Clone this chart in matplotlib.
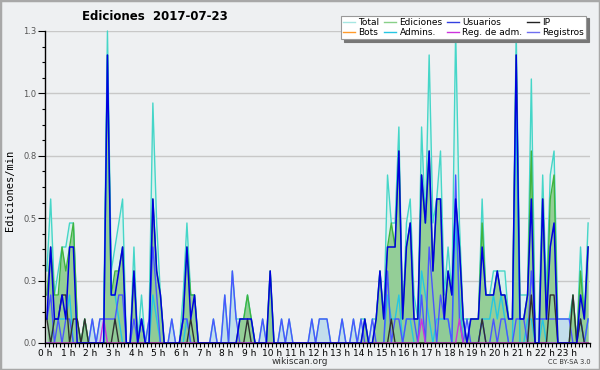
import matplotlib
matplotlib.use("Agg")
import matplotlib.pyplot as plt
from matplotlib.lines import Line2D
from matplotlib.patches import Rectangle
import numpy as np

# Edits per 10-minute slot, one row per hour (6 slots per hour)
total = [
    [3, 6, 2, 3, 4, 4], [5, 5, 1, 0, 1, 0], [1, 0, 1, 1, 13, 3], [4, 5, 6, 0, 0, 4],
    [0, 2, 0, 1, 10, 5], [2, 0, 0, 1, 0, 0], [2, 5, 2, 2, 0, 0], [0, 0, 1, 0, 0, 2],
    [0, 3, 1, 1, 1, 2], [1, 0, 0, 1, 0, 3], [0, 0, 1, 0, 1, 0], [0, 0, 0, 0, 1, 0],
    [1, 1, 1, 0, 0, 0], [1, 0, 0, 1, 0, 1], [1, 0, 1, 1, 3, 1], [7, 5, 5, 9, 1, 5],
    [6, 2, 1, 9, 5, 12], [5, 6, 8, 2, 4, 2], [13, 5, 1, 1, 1, 1], [1, 6, 2, 2, 3, 3],
    [3, 3, 1, 1, 13, 2], [2, 2, 11, 1, 1, 7], [2, 7, 8, 1, 1, 1], [1, 2, 0, 4, 1, 5],
]
ediciones = [
    [2, 4, 2, 2, 4, 3], [4, 5, 1, 0, 1, 0], [0, 0, 0, 0, 12, 2], [3, 3, 4, 0, 0, 3],
    [0, 1, 0, 0, 6, 3], [2, 0, 0, 0, 0, 0], [1, 4, 2, 2, 0, 0], [0, 0, 0, 0, 0, 0],
    [0, 0, 0, 1, 1, 2], [1, 0, 0, 0, 0, 3], [0, 0, 0, 0, 0, 0], [0, 0, 0, 0, 0, 0],
    [0, 0, 0, 0, 0, 0], [0, 0, 0, 0, 0, 0], [1, 0, 0, 1, 3, 1], [4, 5, 4, 8, 1, 4],
    [5, 1, 1, 7, 5, 8], [3, 6, 6, 1, 3, 2], [6, 4, 1, 0, 1, 1], [1, 5, 2, 2, 2, 3],
    [2, 2, 1, 1, 12, 1], [1, 2, 8, 0, 0, 6], [1, 6, 7, 0, 0, 0], [0, 2, 0, 3, 1, 4],
]
usuarios = [
    [1, 4, 1, 1, 2, 1], [4, 4, 0, 0, 0, 0], [0, 0, 0, 0, 12, 2], [2, 3, 4, 0, 0, 3],
    [0, 1, 0, 0, 6, 3], [2, 0, 0, 0, 0, 0], [1, 4, 1, 2, 0, 0], [0, 0, 0, 0, 0, 0],
    [0, 0, 0, 1, 1, 1], [1, 0, 0, 0, 0, 3], [0, 0, 0, 0, 0, 0], [0, 0, 0, 0, 0, 0],
    [0, 0, 0, 0, 0, 0], [0, 0, 0, 0, 0, 0], [1, 0, 0, 1, 3, 1], [4, 4, 4, 8, 1, 4],
    [5, 1, 1, 7, 5, 8], [3, 6, 6, 1, 3, 2], [6, 4, 1, 0, 1, 1], [1, 4, 2, 2, 2, 3],
    [2, 2, 1, 1, 12, 1], [1, 2, 6, 0, 0, 6], [1, 4, 5, 0, 0, 0], [0, 0, 0, 2, 1, 4],
]
ip = [
    [1, 0, 1, 1, 2, 2], [0, 1, 1, 0, 1, 0], [0, 0, 0, 0, 0, 0], [1, 0, 0, 0, 0, 0],
    [0, 0, 0, 0, 0, 0], [0, 0, 0, 0, 0, 0], [0, 0, 1, 0, 0, 0], [0, 0, 0, 0, 0, 0],
    [0, 0, 0, 0, 0, 1], [0, 0, 0, 0, 0, 0], [0, 0, 0, 0, 0, 0], [0, 0, 0, 0, 0, 0],
    [0, 0, 0, 0, 0, 0], [0, 0, 0, 0, 0, 0], [0, 0, 0, 0, 0, 0], [0, 1, 0, 0, 0, 0],
    [0, 0, 0, 0, 0, 0], [0, 0, 0, 0, 0, 0], [0, 0, 0, 0, 0, 0], [0, 1, 0, 0, 0, 0],
    [0, 0, 0, 0, 0, 0], [0, 0, 2, 0, 0, 0], [0, 2, 2, 0, 0, 0], [0, 2, 0, 1, 0, 0],
]
bots = [[0, 0, 0, 0, 0, 0] for _ in range(24)]
admins = [
    [0, 0, 1, 1, 1, 1], [2, 0, 0, 0, 0, 0], [0, 0, 0, 0, 12, 2], [2, 1, 0, 0, 0, 0],
    [0, 1, 0, 0, 2, 1], [0, 0, 0, 0, 0, 0], [0, 1, 0, 0, 0, 0], [0, 0, 0, 0, 0, 0],
    [0, 0, 0, 0, 0, 0], [0, 0, 0, 0, 0, 0], [0, 0, 0, 0, 0, 0], [0, 0, 0, 0, 0, 0],
    [0, 0, 0, 0, 0, 0], [0, 0, 0, 0, 0, 0], [0, 0, 0, 0, 0, 0], [2, 1, 1, 2, 0, 1],
    [1, 0, 0, 3, 2, 1], [0, 1, 1, 1, 1, 0], [5, 2, 0, 0, 0, 0], [0, 1, 1, 1, 2, 1],
    [2, 1, 0, 0, 10, 0], [0, 1, 1, 0, 0, 1], [0, 0, 0, 0, 0, 0], [0, 0, 0, 1, 0, 1],
]
reg_adm = [
    [0, 0, 0, 0, 0, 0], [0, 0, 0, 0, 0, 0], [0, 0, 0, 1, 0, 0], [0, 0, 0, 0, 0, 0],
    [0, 0, 0, 0, 0, 0], [0, 0, 0, 0, 0, 0], [0, 0, 0, 0, 0, 0], [0, 0, 0, 0, 0, 0],
    [0, 0, 0, 0, 0, 0], [0, 0, 0, 0, 0, 0], [0, 0, 0, 0, 0, 0], [0, 0, 0, 0, 0, 0],
    [0, 0, 0, 0, 0, 0], [0, 0, 0, 0, 0, 0], [0, 0, 0, 0, 0, 0], [0, 0, 0, 0, 0, 0],
    [0, 0, 0, 1, 0, 0], [0, 0, 0, 0, 0, 0], [0, 1, 0, 0, 0, 0], [0, 0, 0, 0, 0, 0],
    [0, 0, 0, 0, 0, 0], [0, 0, 0, 0, 0, 0], [0, 0, 0, 0, 0, 0], [0, 0, 0, 0, 0, 0],
]
registros = [
    [1, 2, 0, 1, 0, 1], [1, 0, 0, 0, 0, 0], [1, 0, 1, 1, 1, 1], [1, 2, 2, 0, 0, 1],
    [0, 1, 0, 1, 4, 2], [0, 0, 0, 1, 0, 0], [1, 1, 0, 0, 0, 0], [0, 0, 1, 0, 0, 2],
    [0, 3, 1, 0, 0, 0], [0, 0, 0, 1, 0, 0], [0, 0, 1, 0, 1, 0], [0, 0, 0, 0, 1, 0],
    [1, 1, 1, 0, 0, 0], [1, 0, 0, 1, 0, 1], [0, 0, 1, 0, 0, 0], [3, 0, 1, 1, 0, 1],
    [1, 1, 0, 2, 0, 4], [2, 0, 2, 1, 1, 0], [7, 1, 0, 1, 0, 0], [0, 1, 0, 0, 1, 0],
    [1, 1, 0, 0, 1, 1], [1, 0, 3, 1, 1, 1], [1, 1, 1, 1, 1, 1], [1, 0, 0, 1, 0, 1],
]
hour_labels = [f"{h} h" for h in range(24)]
y_ticks = [0.0, 0.26, 0.52, 0.78, 1.04, 1.3]
title = "Ediciones  2017-07-23"


def per_min(rows):
    return np.array(sum(rows, []), dtype=float) / 10.0


n = 24 * 6
x = (np.arange(n) + 0.5) / 6.0
T, E, U, I = per_min(total), per_min(ediciones), per_min(usuarios), per_min(ip)
B, A, M, R = per_min(bots), per_min(admins), per_min(reg_adm), per_min(registros)

bg = "#eef0f2"
fig = plt.figure(figsize=(6, 3.7), dpi=100, facecolor=bg)
ax = fig.add_axes([45 / 600, 27 / 370, 545 / 600, 312 / 370])
ax.set_facecolor(bg)

c_total = "#45d6c8"
c_edic = "#3fb43f"
c_usu = "#0000e0"
c_ip = "#303030"
c_bots = "#ff9a2a"
c_adm = "#25c6e2"
c_regadm = "#cc33dd"
c_reg = "#4a55ff"

ax.fill_between(x, 0, T, color="#daf1ee", lw=0, zorder=1)
ax.fill_between(x, 0, R, color="#c2deec", lw=0, zorder=1.1)
ax.fill_between(x, 0, E, color="#88c888", alpha=0.85, lw=0, zorder=1.2)

ax.plot(x, B, color=c_bots, lw=1, zorder=1.5)
ax.plot(x, T, color=c_total, lw=1, zorder=2, clip_on=False)
ax.plot(x, E, color=c_edic, lw=1, zorder=2.1, clip_on=False)
ax.plot(x, A, color=c_adm, lw=1, zorder=2.2, clip_on=False)
ax.plot(x, R, color=c_reg, lw=1, zorder=2.3, clip_on=False)
ax.plot(x, I, color=c_ip, lw=1, zorder=2.4, clip_on=False)
ax.plot(x, M, color=c_regadm, lw=1, zorder=2.5, clip_on=False)
ax.plot(x, U, color=c_usu, lw=1.1, zorder=2.6, clip_on=False)

ax.set_xlim(0, 24)
ax.set_ylim(0, 1.3)
for s in ("top", "right"):
    ax.spines[s].set_visible(False)
for s in ("left", "bottom"):
    ax.spines[s].set_color("black")
    ax.spines[s].set_linewidth(1.0)
    ax.spines[s].set_zorder(3)

ax.set_yticks(y_ticks)
ax.set_yticklabels([f"{v:.1f}" for v in y_ticks])
ax.set_yticks(np.arange(0, 1.3001, 0.065), minor=True)
ax.set_xticks(np.arange(24))
ax.set_xticklabels(hour_labels)
ax.set_xticks(np.arange(0, 24.001, 1 / 6), minor=True)
ax.tick_params(axis="y", which="major", length=5, width=0.8, labelsize=6,
               labelcolor="#555555", pad=1)
ax.tick_params(axis="y", which="minor", length=2.5, width=0.8)
ax.tick_params(axis="x", which="major", length=3, width=0.8, labelsize=6.5, pad=1)
ax.tick_params(axis="x", which="minor", length=3, width=0.8)
ax.yaxis.grid(True, color="#c8c8c8", lw=1)
ax.set_axisbelow(True)

fig.text(10 / 600, 1 - 190 / 370, "Ediciones/min", rotation=90, ha="center",
         va="center", fontsize=7.5, family="DejaVu Sans Mono")
fig.text(155 / 600, 1 - 17 / 370, title, ha="center", va="center",
         fontsize=8.5, fontweight="bold")
fig.text(300 / 600, 1 - 362 / 370, "wikiscan.org", ha="center", va="center",
         fontsize=6.5, color="#333333")
fig.text(569 / 600, 1 - 362 / 370, "CC BY-SA 3.0", ha="center", va="center",
         fontsize=4.8, color="#333333")

handles = [
    Line2D([], [], color="#a6e6e2", lw=1), Line2D([], [], color=c_bots, lw=1),
    Line2D([], [], color="#88d088", lw=1), Line2D([], [], color=c_adm, lw=1),
    Line2D([], [], color="#3340e0", lw=1), Line2D([], [], color=c_regadm, lw=1),
    Line2D([], [], color="#222222", lw=1), Line2D([], [], color="#6f6ff0", lw=1),
]
labels = ["Total", "Bots", "Ediciones", "Admins.", "Usuarios", "Reg. de adm.",
          "IP", "Registros"]
leg = fig.legend(handles, labels, ncol=4, loc="upper right",
                 bbox_to_anchor=(591 / 600, 1 - 11 / 370), fontsize=6.5,
                 handlelength=1.3, handletextpad=0.4, columnspacing=0.5,
                 borderpad=0.25, labelspacing=0.1, fancybox=False,
                 framealpha=1, edgecolor="#999999",
                 shadow={"color": "#777777", "alpha": 1})
leg.get_frame().set_linewidth(0.8)

fig.patches.append(Rectangle((0, 0), 1, 1, transform=fig.transFigure,
                             fill=False, edgecolor="#a8a8a8", lw=2.5))

fig.savefig("out.png", dpi=100, facecolor=bg)
